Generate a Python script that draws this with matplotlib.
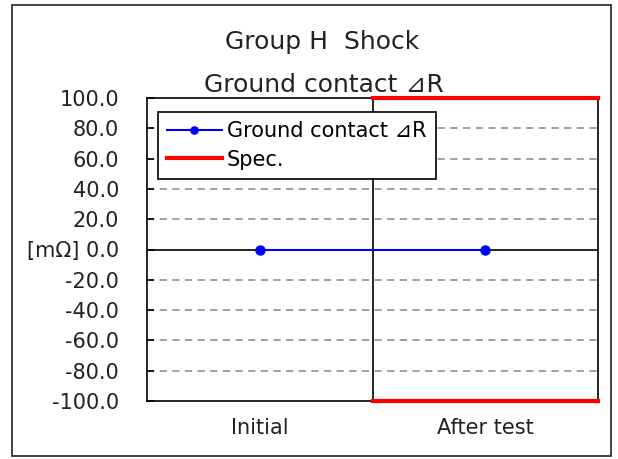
import matplotlib
matplotlib.use("Agg")
import matplotlib.pyplot as plt
from matplotlib.patches import Rectangle

plt.rcParams['font.family'] = ['DejaVu Sans', 'Noto Sans CJK JP']

# data
categories = ['Initial', 'After test']
delta_r = [0.0, 0.0]
spec_x = [0.5, 1.5]
spec_upper = [100.0, 100.0]
spec_lower = [-100.0, -100.0]
yticks = [-100, -80, -60, -40, -20, 0, 20, 40, 60, 80, 100]

W, H = 618, 459
fig = plt.figure(figsize=(W / 100, H / 100), dpi=100)

# outer frame
fig.patches.append(Rectangle((12 / W, 3 / H), 599 / W, 1 - 8 / H, transform=fig.transFigure,
                             fill=False, edgecolor='#222222', lw=1.2))

ax = fig.add_axes([147 / W, 1 - 401 / H, 451 / W, 303 / H])
x = list(range(len(categories)))

for y in yticks:
    if y in (-100, 0, 100):
        continue
    ax.axhline(y, color='#999999', lw=1.3, ls=(0, (4, 3)), zorder=1)
ax.axhline(0, color='black', lw=1.2, zorder=1)
ax.axvline(0.5, color='black', lw=1.2, zorder=1)

ax.plot(x, delta_r, color='#0000ff', lw=1.5, marker='o', ms=6.5, label='Ground contact ⊿R', zorder=3)
ax.plot(spec_x, spec_upper, color='#ff0000', lw=3, label='Spec.', zorder=4, clip_on=False)
ax.plot(spec_x, spec_lower, color='#ff0000', lw=3, zorder=4, clip_on=False)

ax.set_xlim(-0.5, 1.5)
ax.set_ylim(-100, 100)
ax.set_yticks(yticks)
ax.set_yticklabels(['[mΩ] 0.0' if v == 0 else '%.1f' % v for v in yticks], fontsize=15, color='#222222')
ax.tick_params(axis='y', direction='in', length=5, width=1.2, pad=20)
ax.set_xticks(x)
ax.set_xticklabels(categories, fontsize=15, color='#222222')
ax.tick_params(axis='x', length=0, pad=12)
for s in ax.spines.values():
    s.set_linewidth(1.2)
    s.set_color('black')

fig.text(322 / W, 1 - 42 / H, 'Group H  Shock', ha='center', va='center', fontsize=18, color='#222222')
fig.text(324 / W, 1 - 85 / H, 'Ground contact ⊿R', ha='center', va='center', fontsize=18, color='#222222')

leg = ax.legend(loc='upper left', bbox_to_anchor=(158 / W, 1 - 112 / H), bbox_transform=fig.transFigure,
                fontsize=15, frameon=True, fancybox=False, framealpha=1, edgecolor='black',
                handlelength=2.6, handletextpad=0.25, borderpad=0.45, labelspacing=0.4, borderaxespad=0,
                markerscale=0.8)
leg.get_frame().set_linewidth(1.2)
leg.set_zorder(10)

fig.savefig('out.png', dpi=100)
